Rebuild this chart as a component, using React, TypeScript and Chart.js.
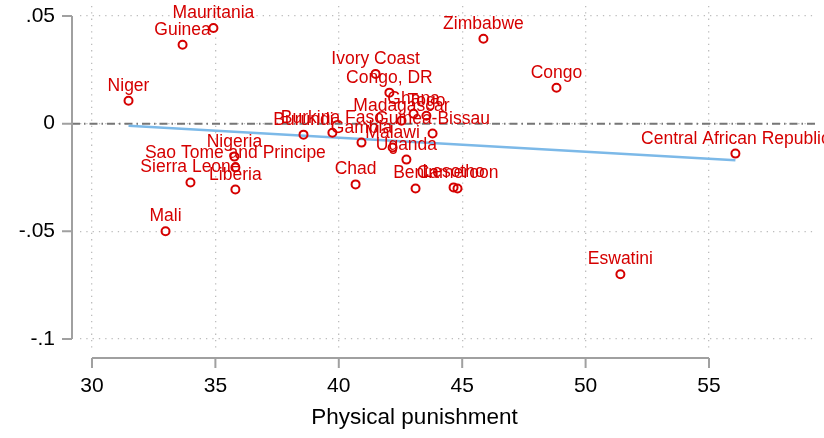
import React, { useEffect, useRef } from "react";
import { Chart, registerables } from "chart.js";

Chart.register(...registerables);

const countries = [
  "Mauritania", "Guinea", "Niger", "Zimbabwe", "Congo", "Ivory Coast", "Congo, DR",
  "Ghana", "Togo", "Madagascar", "Guinea-Bissau", "Burundi", "Burkina Faso", "Gambia",
  "Malawi", "Uganda", "Chad", "Benin", "Lesotho", "Cameroon", "Nigeria",
  "Sao Tome and Principe", "Sierra Leone", "Liberia", "Mali", "Eswatini",
  "Central African Republic",
];
const physicalPunishment = [
  34.92, 33.67, 31.48, 45.86, 48.82, 41.49, 42.05,
  43.03, 43.55, 42.54, 43.8, 38.57, 39.74, 40.92,
  42.18, 42.74, 40.68, 43.11, 44.65, 44.81, 35.77,
  35.81, 33.99, 35.81, 32.98, 51.41,
  56.07,
];
const residuals = [
  0.0444, 0.0366, 0.0106, 0.0394, 0.0167, 0.0231, 0.0144,
  0.0046, 0.0037, 0.0014, -0.0046, -0.0051, -0.0042, -0.0088,
  -0.0111, -0.0167, -0.0282, -0.0301, -0.0296, -0.0301, -0.0153,
  -0.0204, -0.0273, -0.0306, -0.05, -0.0699,
  -0.0139,
];
const fitX = [31.48, 56.07];
const fitY = [-0.001, -0.017];

const xTickValues = [30, 35, 40, 45, 50, 55];
const xTickLabels = ["30", "35", "40", "45", "50", "55"];
const yTickValues = [0.05, 0, -0.05, -0.1];
const yTickLabels = [".05", "0", "-.05", "-.1"];
const xTitle = "Physical punishment";

const RED = "#d50000";
const AXIS = "#a0a0a0";
const FONT = "'Liberation Sans', Arial, Helvetica, sans-serif";

const stataPlugin = {
  id: "stataDecor",
  beforeDatasetsDraw(chart: any) {
    const { ctx, chartArea, scales } = chart;
    const y = scales.y;
    const y0 = y.getPixelForValue(0);
    ctx.save();
    ctx.strokeStyle = "#767676";
    ctx.lineWidth = 2;
    ctx.setLineDash([8, 4, 1.5, 4]);
    ctx.beginPath();
    ctx.moveTo(chartArea.left - 8, y0);
    ctx.lineTo(chartArea.right, y0);
    ctx.stroke();
    ctx.restore();
  },
  afterDatasetsDraw(chart: any) {
    const { ctx, chartArea, scales } = chart;
    const x = scales.x;
    const y = scales.y;
    ctx.save();
    const meta = chart.getDatasetMeta(0);
    ctx.font = `17.5px ${FONT}`;
    ctx.fillStyle = RED;
    ctx.textAlign = "center";
    ctx.textBaseline = "alphabetic";
    meta.data.forEach((pt: any, i: number) => {
      ctx.fillText(countries[i], pt.x, pt.y - 10);
    });
    const ax = chartArea.left - 8;
    ctx.strokeStyle = AXIS;
    ctx.lineWidth = 2;
    ctx.beginPath();
    const yTop = y.getPixelForValue(yTickValues[0]);
    const yBot = y.getPixelForValue(yTickValues[yTickValues.length - 1]);
    ctx.moveTo(ax, yTop);
    ctx.lineTo(ax, yBot);
    yTickValues.forEach((v) => {
      const p = y.getPixelForValue(v);
      ctx.moveTo(ax - 10, p);
      ctx.lineTo(ax, p);
    });
    ctx.stroke();
    const ay = chartArea.bottom + 10;
    ctx.beginPath();
    const xL = x.getPixelForValue(xTickValues[0]);
    const xR = x.getPixelForValue(xTickValues[xTickValues.length - 1]);
    ctx.moveTo(xL, ay);
    ctx.lineTo(xR, ay);
    xTickValues.forEach((v) => {
      const p = x.getPixelForValue(v);
      ctx.moveTo(p, ay);
      ctx.lineTo(p, ay + 10);
    });
    ctx.stroke();
    ctx.fillStyle = "#000";
    ctx.font = `22.5px ${FONT}`;
    ctx.textAlign = "center";
    ctx.textBaseline = "middle";
    ctx.fillText(xTitle, (xL + xR) / 2 + 14, 418);
    ctx.restore();
  },
};

const gridOpts: any = {
  drawTicks: false,
  color: "#bdbdbd",
  lineWidth: 1.3,
};
const borderOpts: any = { display: false, dash: [1.3, 5] };

export default function App() {
  const ref = useRef<HTMLCanvasElement | null>(null);
  useEffect(() => {
    document.body.style.margin = "0";
    const canvas = ref.current;
    if (!canvas) return;
    const chart = new Chart(canvas, {
      type: "scatter",
      data: {
        datasets: [
          {
            type: "scatter",
            data: physicalPunishment.map((v, i) => ({ x: v, y: residuals[i] })),
            pointRadius: 4,
            pointHoverRadius: 4,
            borderWidth: 2,
            borderColor: RED,
            backgroundColor: "rgba(0,0,0,0)",
          },
          {
            type: "line",
            data: fitX.map((v, i) => ({ x: v, y: fitY[i] })),
            borderColor: "#7cb9e8",
            borderWidth: 2.5,
            pointRadius: 0,
            fill: false,
          } as any,
        ],
      },
      options: {
        animation: false,
        responsive: false,
        events: [],
        layout: { padding: { left: 0, top: 5, right: 9, bottom: 0 } },
        plugins: { legend: { display: false }, tooltip: { enabled: false } },
        scales: {
          x: {
            type: "linear",
            min: 29.514,
            max: 59.295,
            afterBuildTicks: (s: any) => {
              s.ticks = xTickValues.map((v) => ({ value: v }));
            },
            afterFit: (s: any) => {
              s.height = 90;
              s.paddingLeft = 0;
              s.paddingRight = 0;
              s.paddingTop = 0;
              s.paddingBottom = 0;
            },
            border: borderOpts,
            grid: gridOpts,
            ticks: {
              padding: 26,
              color: "#000",
              font: { size: 21, family: FONT },
              maxRotation: 0,
              autoSkip: false,
              callback: (_v: any, i: number) => xTickLabels[i],
            },
          },
          y: {
            type: "linear",
            min: -0.10417,
            max: 0.05463,
            afterBuildTicks: (s: any) => {
              s.ticks = yTickValues.map((v) => ({ value: v }));
            },
            afterFit: (s: any) => {
              s.width = 80;
              s.paddingLeft = 0;
              s.paddingRight = 0;
              s.paddingTop = 0;
              s.paddingBottom = 0;
            },
            border: borderOpts,
            grid: gridOpts,
            ticks: {
              padding: 25,
              color: "#000",
              font: { size: 21, family: FONT },
              autoSkip: false,
              callback: (_v: any, i: number) => yTickLabels[i],
            },
          },
        },
      },
      plugins: [stataPlugin],
    });
    return () => chart.destroy();
  }, []);
  return (
    <div style={{ width: 824, height: 438 }}>
      <canvas ref={ref} width={824} height={438} style={{ display: "block" }} />
    </div>
  );
}
